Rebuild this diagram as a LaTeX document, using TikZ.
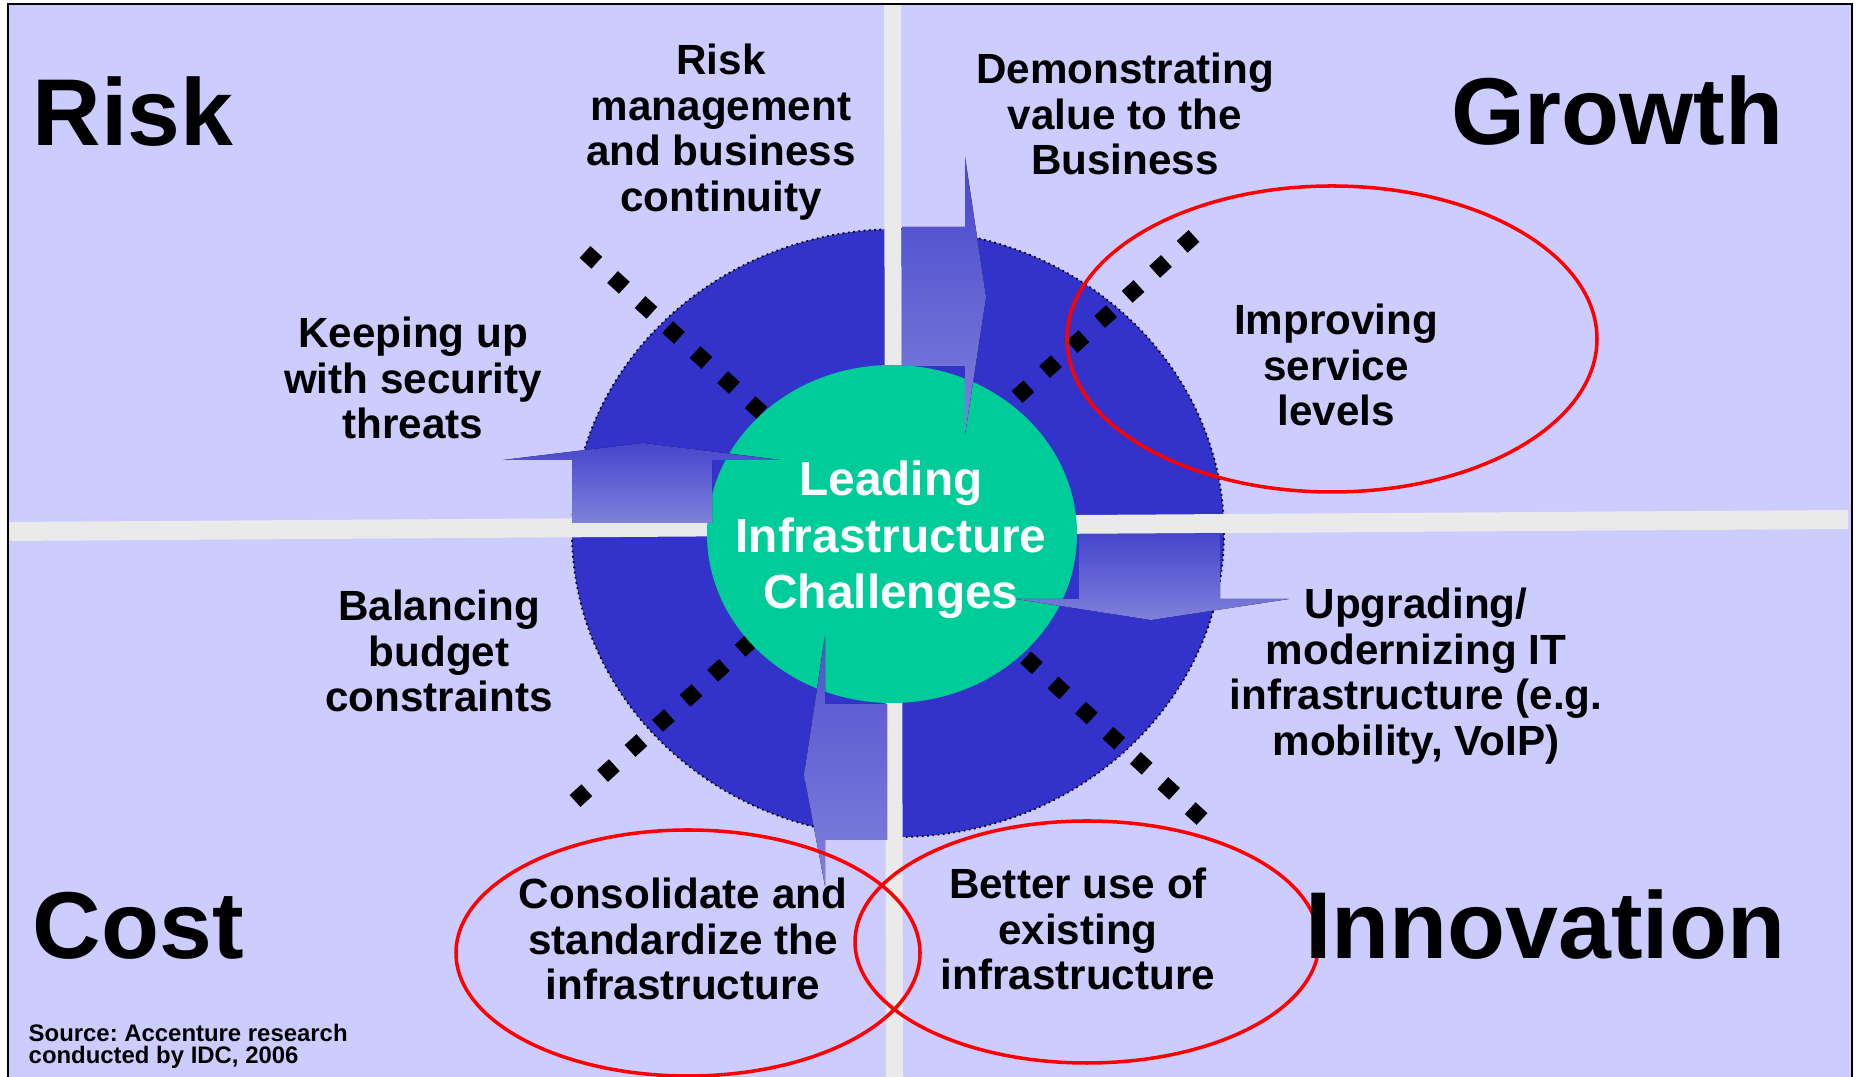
\documentclass[tikz,border=0pt]{standalone}
\usepackage{fontspec}
\setmainfont{Liberation Sans}
\usepackage{xcolor}
\usepackage{tikz}
\usetikzlibrary{shapes.geometric, calc}
\definecolor{fond}{HTML}{CCCCFF}
\definecolor{barre}{HTML}{EAEAEA}
\definecolor{bleufonce}{HTML}{3333CC}
\definecolor{vert}{HTML}{00CC99}
\definecolor{flechesombre}{HTML}{4646CC}
\definecolor{flecheclaire}{HTML}{8080DC}
\definecolor{rouge}{rgb}{1.0, 0.0, 0.0}
\frenchspacing

\tikzset{
  grand/.style={font=\fontsize{27}{30}\selectfont\bfseries, inner sep=0pt},
  etiquette/.style={font=\fontsize{12}{13}\selectfont\bfseries, align=center, inner sep=0pt},
  centre/.style={font=\fontsize{13.6}{16.1}\selectfont\bfseries, align=center, inner sep=0pt, text=white},
  petit/.style={font=\fontsize{6.8}{6.3}\selectfont\bfseries, align=left, inner sep=0pt},
  pointilles/.style={line width=4.55pt, dash pattern=on 4.55pt off 6.03pt},
  fleche/.style={top color=flechesombre, bottom color=flecheclaire},
  anneau/.style={draw=rouge, line width=1pt}
}

\begin{document}
\begin{tikzpicture}[x=0.01cm, y=-0.01cm]
    \useasboundingbox (0,0) rectangle (1857,1077);

    % Fond lavande
    \fill[fond] (8,4) rectangle (1852,1077);

    % Grand disque bleu fonce
    \fill[bleufonce] (898,533) ellipse [x radius=326, y radius=304];
    \draw[densely dotted, line width=0.5pt] (898,533) ellipse [x radius=326, y radius=304];

    % Barres grises en croix
    \fill[barre] (884,4) -- (901,4) -- (903,1077) -- (886,1077) -- cycle;
    \fill[barre] (8,522) -- (1848,510) -- (1848,529) -- (8,541) -- cycle;

    % Diagonales en pointilles carres
    \draw[pointilles] (585,252) -- (762,413);
    \draw[pointilles] (1194,236) -- (1016,398);
    \draw[pointilles] (575,801) -- (753,639);
    \draw[pointilles] (1202,819) -- (1024,656);

    % Disque central vert
    \fill[vert] (892,534) ellipse [x radius=185, y radius=169];

    % Fleches en degrade (sens horaire)
    \fill[fleche] (902,227) -- (965,227) -- (965,157) -- (986,297) -- (965,435)
        -- (965,366) -- (902,366) -- cycle;
    \fill[fleche] (1079,534) -- (1220,534) -- (1220,599) -- (1289,599) -- (1151,620)
        -- (1016,599) -- (1079,599) -- cycle;
    \fill[top color=flechesombre!80!flecheclaire, bottom color=flecheclaire]
        (887,704) -- (887,840) -- (825,840) -- (825,886) -- (804,775)
        -- (825,636) -- (825,704) -- cycle;
    \fill[fleche] (572,523) -- (572,460) -- (503,460) -- (643,443) -- (781,460)
        -- (712,460) -- (712,523) -- cycle;

    % Ellipses rouges
    \draw[anneau] (1332,339) ellipse [x radius=265, y radius=153];
    \draw[anneau] (688,953) ellipse [x radius=232, y radius=123];
    \draw[anneau] (1087,942) ellipse [x radius=232, y radius=121];

    % Quadrants
    \node[grand, anchor=base west] (risque) at (32,146) {Risk};
    \node[grand, anchor=base east] (croissance) at (1784,145) {Growth};
    \node[grand, anchor=base west] (cout) at (32,959) {Cost};
    \node[grand, anchor=base east] (innovation) at (1786,959) {Innovation};

    % Etiquettes
    \node[etiquette] (continuite) at (721,132) {Risk\\management\\and business\\continuity};
    \node[etiquette] (valeur) at (1125,114) {Demonstrating\\value to the\\Business};
    \node[etiquette] (securite) at (413,378) {Keeping up\\with security\\threats};
    \node[etiquette] (service) at (1336,365) {Improving\\service\\levels};
    \node[etiquette] (budget) at (439,651) {Balancing\\budget\\constraints};
    \node[etiquette] (moderniser) at (1416,676) {Upgrading/\\modernizing IT\\infrastructure (e.g.\\mobility, VoIP)};
    \node[etiquette] (consolider) at (683,939) {Consolidate and\\standardize the\\infrastructure};
    \node[etiquette] (existant) at (1078,929) {Better use of\\existing\\infrastructure};

    % Titre central
    \node[centre] (defis) at (891,540) {Leading\\Infrastructure\\Challenges};

    % Source
    \node[petit, anchor=west] (source) at (28,1046) {Source: Accenture research\\conducted by IDC, 2006};

    % Cadre
    \draw[line width=0.6pt] (8,1085) -- (8,4) -- (1852,4) -- (1852,1085);
\end{tikzpicture}
\end{document}
